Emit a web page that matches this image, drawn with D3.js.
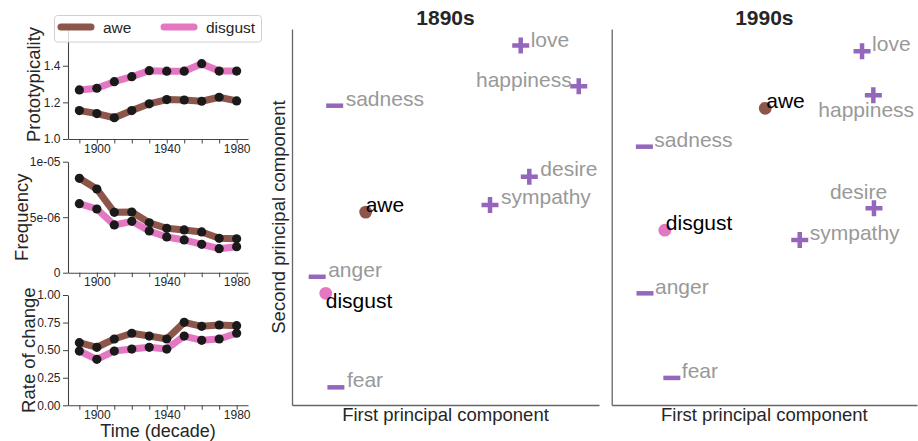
<!DOCTYPE html>
<html>
<head>
<meta charset="utf-8">
<script src="https://cdn.jsdelivr.net/npm/d3@7"></script>
<style>
  body { margin: 0; background: #fff; }
  svg { font-family: "Liberation Sans", Arial, sans-serif; display: block; }
</style>
</head>
<body>
<div id="chart"></div>
<script>
// ---- time series (left column) ----
const decades = [1890, 1900, 1910, 1920, 1930, 1940, 1950, 1960, 1970, 1980];
const decadeTickLabels = [1900, 1940, 1980];

const protoAwe     = [1.155, 1.139, 1.116, 1.155, 1.192, 1.215, 1.213, 1.206, 1.228, 1.208];
const protoDisgust = [1.268, 1.277, 1.313, 1.340, 1.373, 1.370, 1.370, 1.411, 1.371, 1.371];
const protoTicks = [1.0, 1.2, 1.4];
const protoTickLabels = ["1.0", "1.2", "1.4"];

const freqAwe     = [8.5e-6, 7.54e-6, 5.44e-6, 5.47e-6, 4.5e-6, 4.0e-6, 3.85e-6, 3.67e-6, 3.1e-6, 3.05e-6];
const freqDisgust = [6.22e-6, 5.74e-6, 4.3e-6, 4.63e-6, 3.76e-6, 3.22e-6, 2.95e-6, 2.56e-6, 2.16e-6, 2.34e-6];
const freqTicks = [0, 5e-6, 1e-5];
const freqTickLabels = ["0", "5e-06", "1e-05"];

const rateAwe     = [0.568, 0.526, 0.601, 0.653, 0.628, 0.601, 0.752, 0.716, 0.728, 0.722];
const rateDisgust = [0.492, 0.417, 0.492, 0.510, 0.526, 0.510, 0.628, 0.589, 0.601, 0.653];
const rateTicks = [0, 0.25, 0.5, 0.75, 1.0];
const rateTickLabels = ["0.00", "0.25", "0.50", "0.75", "1.00"];

// ---- principal component scatter (arbitrary units, 0-100) ----
const words    = ["love", "happiness", "sadness", "desire", "sympathy", "awe", "anger", "disgust", "fear"];
const wordKind = ["pos", "pos", "neg", "pos", "pos", "awe", "neg", "disgust", "neg"];
const pc1_1890s = [74.5, 93.4, 13.9, 77.3, 64.5, 24.0, 8.2, 11.0, 14.3];
const pc2_1890s = [95.6, 84.8, 79.6, 60.7, 53.2, 51.3, 34.1, 29.7, 4.7];
const pc1_1990s = [82.0, 85.7, 10.7, 85.9, 61.6, 50.3, 10.9, 17.4, 19.7];
const pc2_1990s = [94.1, 82.4, 68.7, 52.3, 43.9, 78.9, 29.7, 46.5, 7.2];

const colors = { awe: "#8c564b", disgust: "#e377c2", marker: "#9467bd" };
const textDark = "#262626";
const spine = "#444";

const width = 918, height = 441;
const svg = d3.select("#chart").append("svg")
    .attr("width", width)
    .attr("height", height);

// ------------------------------------------------------------------
// Left column: three small line panels
// ------------------------------------------------------------------
const x = d3.scaleLinear().domain([1883.5, 1986.5]).range([68, 248]);

const panels = [
    { label: "Prototypicality", labelX: 40, awe: protoAwe, disgust: protoDisgust,
      domain: [1.0, 1.595], range: [139, 30], ticks: protoTicks, tickLabels: protoTickLabels },
    { label: "Frequency", labelX: 28, awe: freqAwe, disgust: freqDisgust,
      domain: [0, 1e-5], range: [272.7, 161.7], ticks: freqTicks, tickLabels: freqTickLabels },
    { label: "Rate of change", labelX: 35, awe: rateAwe, disgust: rateDisgust,
      domain: [0, 1], range: [405.3, 295], ticks: rateTicks, tickLabels: rateTickLabels }
];

function styleAxis(g) {
    g.selectAll(".domain").attr("stroke", spine).attr("stroke-width", 1.1);
    g.selectAll(".tick line").attr("stroke", spine).attr("stroke-width", 1);
    g.selectAll("text")
        .attr("fill", textDark)
        .attr("font-size", "12px")
        .attr("font-family", "Liberation Sans, Arial, sans-serif");
}

panels.forEach(p => {
    const y = d3.scaleLinear().domain(p.domain).range(p.range);
    const g = svg.append("g");

    // Axis X (decades, labels only every 40 years)
    g.append("g")
        .attr("transform", `translate(0,${p.range[0]})`)
        .call(d3.axisBottom(x)
            .tickValues(decades)
            .tickSize(4.5)
            .tickSizeOuter(0)
            .tickPadding(0.5)
            .tickFormat(d => decadeTickLabels.includes(d) ? d : ""))
        .call(styleAxis);

    // Axis Y
    g.append("g")
        .attr("transform", `translate(${x.range()[0]},0)`)
        .call(d3.axisLeft(y)
            .tickValues(p.ticks)
            .tickSize(5)
            .tickSizeOuter(0)
            .tickPadding(2.5)
            .tickFormat((d, i) => p.tickLabels[i]))
        .call(styleAxis);

    const line = d3.line()
        .x((d, i) => x(decades[i]))
        .y(d => y(d));

    ["awe", "disgust"].forEach(key => {
        g.append("path")
            .datum(p[key])
            .attr("d", line)
            .attr("fill", "none")
            .attr("stroke", colors[key])
            .attr("stroke-width", 7)
            .attr("stroke-linejoin", "round");

        g.selectAll(`circle.${key}`)
            .data(p[key])
            .enter()
            .append("circle")
            .attr("class", key)
            .attr("cx", (d, i) => x(decades[i]))
            .attr("cy", d => y(d))
            .attr("r", 4.6)
            .attr("fill", "#1a1a1a");
    });

    // Y label
    const cy = (p.range[0] + p.range[1]) / 2;
    g.append("text")
        .attr("transform", `translate(${p.labelX},${cy}) rotate(-90)`)
        .attr("text-anchor", "middle")
        .attr("fill", textDark)
        .attr("font-size", "18.5px")
        .text(p.label);
});

svg.append("text")
    .attr("x", (x.range()[0] + x.range()[1]) / 2)
    .attr("y", 437)
    .attr("text-anchor", "middle")
    .attr("fill", textDark)
    .attr("font-size", "18px")
    .text("Time (decade)");

// Legend
const legend = svg.append("g");
legend.append("rect")
    .attr("x", 54.5).attr("y", 15.5)
    .attr("width", 207).attr("height", 26.5)
    .attr("rx", 3)
    .attr("fill", "#fff").attr("fill-opacity", 0.8)
    .attr("stroke", "#d0d0d0");
[
    { key: "awe", x0: 61, tx: 103 },
    { key: "disgust", x0: 164, tx: 206 }
].forEach(item => {
    legend.append("line")
        .attr("x1", item.x0).attr("x2", item.x0 + 30)
        .attr("y1", 27).attr("y2", 27)
        .attr("stroke", colors[item.key])
        .attr("stroke-width", 7)
        .attr("stroke-linecap", "round");
    legend.append("text")
        .attr("x", item.tx).attr("y", 32.5)
        .attr("fill", textDark)
        .attr("font-size", "15.5px")
        .text(item.key);
});

// ------------------------------------------------------------------
// Right: two principal component scatter panels
// ------------------------------------------------------------------
// label placement in pixels relative to marker (layout only)
const labelPlace = {
    "1890s": {
        love: [10, 1, "start"], happiness: [-7, 1, "end"], sadness: [11, 0, "start"],
        desire: [11, -1, "start"], sympathy: [11, -1, "start"], awe: [0, 0, "start"],
        anger: [11, 0, "start"], disgust: [0, 15, "start"], fear: [11, 0, "start"]
    },
    "1990s": {
        love: [10, 0, "start"], happiness: [-55, 22, "start"], sadness: [10, 0, "start"],
        desire: [-44, -9, "start"], sympathy: [10, 0, "start"], awe: [1, 0, "start"],
        anger: [10, 1, "start"], disgust: [1, 0, "start"], fear: [10, 0, "start"]
    }
};

const scatterPanels = [
    { title: "1890s", pc1: pc1_1890s, pc2: pc2_1890s, left: 292, right: 599, showY: true },
    { title: "1990s", pc1: pc1_1990s, pc2: pc2_1990s, left: 611.7, right: 917, showY: false }
];

scatterPanels.forEach(sp => {
    const sx = d3.scaleLinear().domain([0, 100]).range([sp.left, sp.right]);
    const sy = d3.scaleLinear().domain([0, 100]).range([405, 29]);
    const g = svg.append("g");

    // spines (left + bottom only, no ticks)
    g.append("g")
        .attr("transform", `translate(0,${sy.range()[0]})`)
        .call(d3.axisBottom(sx).tickValues([]).tickSizeOuter(0))
        .select(".domain").attr("stroke", "#666").attr("stroke-width", 1.3);
    g.append("g")
        .attr("transform", `translate(${sx.range()[0]},0)`)
        .call(d3.axisLeft(sy).tickValues([]).tickSizeOuter(0))
        .select(".domain").attr("stroke", "#666").attr("stroke-width", 1.3);

    const cx = (sp.left + sp.right) / 2;
    g.append("text")
        .attr("x", cx).attr("y", 25)
        .attr("text-anchor", "middle")
        .attr("font-weight", "bold")
        .attr("font-size", "21px")
        .attr("fill", textDark)
        .text(sp.title);

    g.append("text")
        .attr("x", cx).attr("y", 420.5)
        .attr("text-anchor", "middle")
        .attr("font-size", "18.5px")
        .attr("fill", textDark)
        .text("First principal component");

    if (sp.showY) {
        g.append("text")
            .attr("transform", `translate(285,217) rotate(-90)`)
            .attr("text-anchor", "middle")
            .attr("font-size", "18.5px")
            .attr("fill", textDark)
            .text("Second principal component");
    }

    words.forEach((w, i) => {
        const px = sx(sp.pc1[i]);
        const py = sy(sp.pc2[i]);
        const kind = wordKind[i];

        if (kind === "pos") {
            g.append("path")
                .attr("d", `M${px - 8.5},${py}H${px + 8.5}M${px},${py - 8}V${py + 8}`)
                .attr("stroke", colors.marker)
                .attr("stroke-width", 4.5)
                .attr("fill", "none");
        } else if (kind === "neg") {
            g.append("path")
                .attr("d", `M${px - 8.5},${py}H${px + 8.5}`)
                .attr("stroke", colors.marker)
                .attr("stroke-width", 4.5)
                .attr("fill", "none");
        } else {
            g.append("circle")
                .attr("cx", px).attr("cy", py)
                .attr("r", 6.4)
                .attr("fill", colors[kind]);
        }

        const lp = labelPlace[sp.title][w];
        g.append("text")
            .attr("x", px + lp[0])
            .attr("y", py + lp[1])
            .attr("text-anchor", lp[2])
            .attr("font-size", "21px")
            .attr("fill", (kind === "awe" || kind === "disgust") ? "#000" : "#999")
            .text(w);
    });
});
</script>
</body>
</html>
